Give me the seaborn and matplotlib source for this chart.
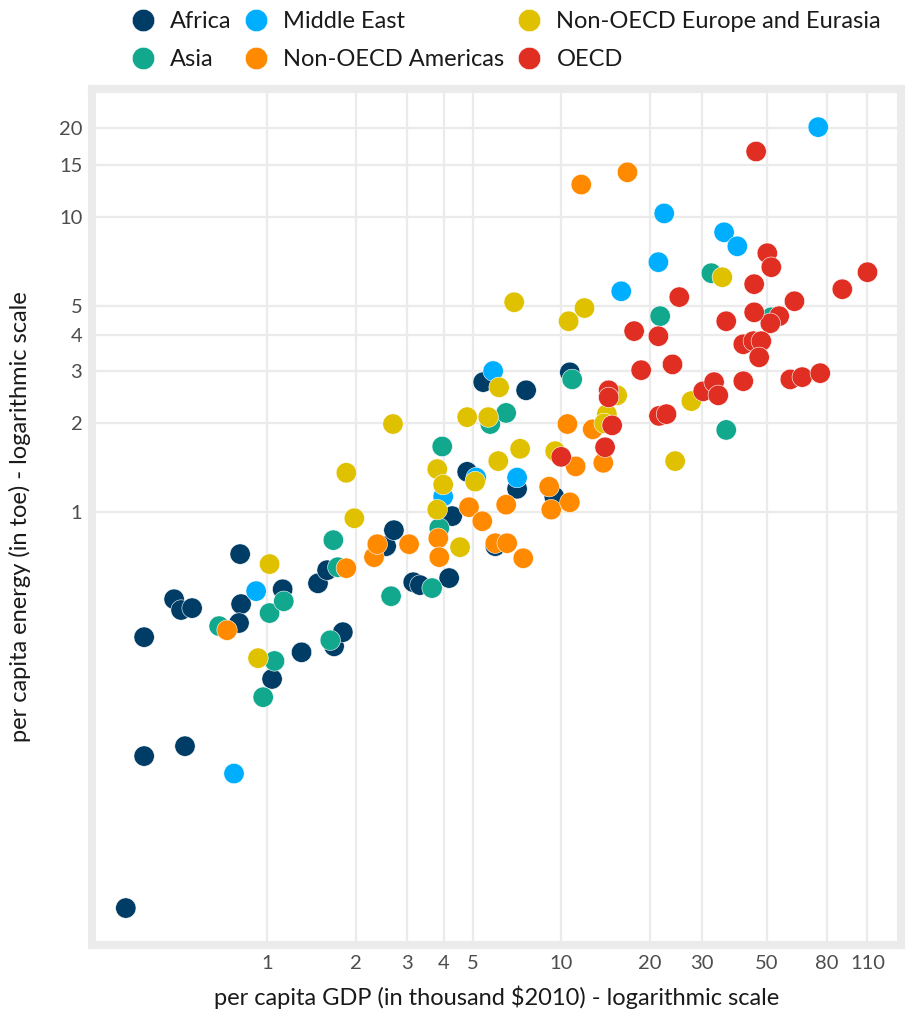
import numpy as np
import pandas as pd
import matplotlib
matplotlib.use("Agg")
import matplotlib.pyplot as plt
import seaborn as sns

# per capita GDP (thousand $2010) and per capita energy (toe)
africa_gdp = [0.331, 0.382, 0.382, 0.483, 0.510, 0.556, 0.526, 0.816, 0.803, 0.810,
              1.04, 1.13, 1.31, 1.49, 1.60, 1.69, 1.81, 2.54, 2.70, 3.14,
              3.31, 4.16, 4.26, 4.79, 5.43, 7.60, 7.08, 9.47, 10.7, 5.97]
africa_energy = [0.0455, 0.377, 0.149, 0.507, 0.466, 0.473, 0.161, 0.488, 0.421, 0.721,
                 0.272, 0.548, 0.335, 0.574, 0.636, 0.351, 0.392, 0.767, 0.869, 0.579,
                 0.566, 0.598, 0.97, 1.37, 2.76, 2.59, 1.20, 1.13, 2.98, 0.767]

asia_gdp = [0.687, 1.02, 1.14, 1.06, 0.97, 1.64, 2.64, 1.68, 1.74, 3.64,
            3.94, 3.85, 5.74, 6.50, 10.9, 32.4, 21.7, 51.8, 36.4]
asia_energy = [0.411, 0.455, 0.499, 0.313, 0.236, 0.368, 0.519, 0.804, 0.651, 0.553,
               1.67, 0.883, 1.99, 2.17, 2.82, 6.46, 4.62, 4.58, 1.90]

middle_east_gdp = [0.772, 0.918, 5.87, 5.14, 3.97, 7.08, 74.8, 22.4, 35.8, 39.7, 21.4, 16.0]
middle_east_energy = [0.130, 0.540, 3.01, 1.31, 1.13, 1.31, 20.2, 10.3, 8.89, 7.97, 7.04, 5.61]

americas_gdp = [0.731, 1.86, 2.31, 2.37, 3.04, 3.82, 3.85, 4.86, 5.39, 5.97,
                6.55, 6.50, 7.43, 9.10, 9.25, 10.7, 10.5, 11.2, 12.8, 13.9, 11.7, 16.8]
americas_energy = [0.398, 0.646, 0.704, 0.779, 0.779, 0.816, 0.704, 1.04, 0.932, 0.785,
                   0.785, 1.06, 0.698, 1.22, 1.02, 1.08, 1.99, 1.43, 1.91, 1.47, 12.9, 14.2]

eurasia_gdp = [0.932, 1.02, 1.86, 1.98, 2.68, 3.79, 3.97, 3.79, 4.53, 4.79,
               5.65, 6.15, 6.11, 7.25, 5.10, 9.54, 6.92, 10.6, 12.0, 15.5,
               14.3, 14.0, 35.3, 27.7, 24.4]
eurasia_energy = [0.320, 0.667, 1.36, 0.954, 1.99, 1.40, 1.24, 1.02, 0.761, 2.10,
                  2.10, 2.65, 1.49, 1.64, 1.27, 1.61, 5.15, 4.44, 4.92, 2.49,
                  2.15, 2.00, 6.26, 2.38, 1.49]

oecd_gdp = [46.0, 50.2, 51.8, 110, 90.3, 45.3, 62.1, 25.2, 55.1, 51.4,
            45.3, 36.4, 17.7, 21.4, 41.6, 45.0, 47.9, 47.1, 18.7, 23.9,
            60.1, 66.0, 76.0, 41.6, 30.4, 33.1, 34.2, 21.5, 22.8, 14.5,
            14.5, 14.9, 14.1, 10.0]
oecd_energy = [16.7, 7.55, 6.77, 6.51, 5.70, 5.93, 5.19, 5.36, 4.62, 4.37,
               4.76, 4.44, 4.11, 3.95, 3.71, 3.80, 3.80, 3.35, 3.03, 3.17,
               2.82, 2.87, 2.96, 2.78, 2.57, 2.76, 2.49, 2.12, 2.15, 2.59,
               2.45, 1.97, 1.66, 1.54]

regions = ["Africa", "Asia", "Middle East", "Non-OECD Americas",
           "Non-OECD Europe and Eurasia", "OECD"]
colors = ["#003d66", "#12a88e", "#00aeff", "#ff8a00", "#dfc100", "#e02f22"]

x_ticks = [1, 2, 3, 4, 5, 10, 20, 30, 50, 80, 110]
y_ticks = [1, 2, 3, 4, 5, 10, 15, 20]

# 1. 데이터프레임 구성
parts = [(regions[0], africa_gdp, africa_energy),
         (regions[1], asia_gdp, asia_energy),
         (regions[2], middle_east_gdp, middle_east_energy),
         (regions[3], americas_gdp, americas_energy),
         (regions[4], eurasia_gdp, eurasia_energy),
         (regions[5], oecd_gdp, oecd_energy)]
df = pd.concat([pd.DataFrame({"region": r, "gdp": g, "energy": e}) for r, g, e in parts],
               ignore_index=True)

# 2. 스타일
sns.set_style("white")
plt.rcParams["font.family"] = ["Lato", "DejaVu Sans"]

fig = plt.figure(figsize=(9.12, 10.13), dpi=100)
ax = fig.add_axes([92 / 912, 68 / 1013, 809 / 912, 856 / 1013])

sns.scatterplot(data=df, x="gdp", y="energy", hue="region", hue_order=regions,
                palette=colors, s=215, edgecolor="white", linewidth=0.4,
                alpha=1, ax=ax, zorder=3)

ax.set_xscale("log")
ax.set_yscale("log")
ax.set_xlim(0.254, 143)
ax.set_ylim(0.0341, 27.2)

ax.set_xticks(x_ticks)
ax.set_xticklabels([str(t) for t in x_ticks])
ax.set_yticks(y_ticks)
ax.set_yticklabels([str(t) for t in y_ticks])
ax.minorticks_off()
ax.tick_params(length=0, labelsize=14.5, labelcolor="#4d4d4d", pad=7)

ax.grid(True, color="#ebebeb", linewidth=1.6, zorder=0)
ax.set_axisbelow(True)
for sp in ax.spines.values():
    sp.set_visible(True)
    sp.set_color("#ebebeb")
    sp.set_linewidth(5.8)

ax.set_xlabel("per capita GDP (in thousand $2010) - logarithmic scale",
              fontsize=17, color="#1a1a1a", labelpad=10)
ax.set_ylabel("per capita energy (in toe) - logarithmic scale",
              fontsize=17, color="#1a1a1a", labelpad=20)

# 3. 범례 (상단, 3열)
handles, labels = ax.get_legend_handles_labels()
ax.get_legend().remove()
fig.legend(handles, labels, loc="center", bbox_to_anchor=(506 / 912, 1 - 40.5 / 1013),
           ncol=3, frameon=False, fontsize=17, labelcolor="#1a1a1a", markerscale=1.1,
           handlelength=1.0, handletextpad=0.65, columnspacing=0.55,
           labelspacing=0.7, borderpad=0)

fig.savefig("out.png", dpi=100)
